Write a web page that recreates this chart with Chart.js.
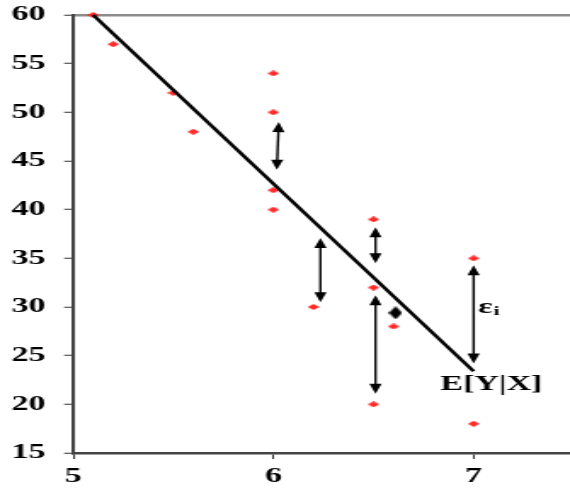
<!DOCTYPE html>
<html><head><meta charset="utf-8">
<script src="https://cdn.jsdelivr.net/npm/chart.js@4/dist/chart.umd.min.js"></script>
<style>
html,body{margin:0;padding:0;background:#fff;overflow:hidden;width:570px;height:488px;}
#wrap{width:343px;height:488px;transform:scaleX(1.7015);transform-origin:0 0;}
</style></head><body>
<div id="wrap"><canvas id="c" width="343" height="488"></canvas></div>
<script>
// observed points
const obsX = [5.1, 5.2, 5.5, 5.6, 6, 6, 6, 6, 6.2, 6.5, 6.5, 6.5, 6.6, 7, 7];
const obsY = [60, 57, 52, 48, 54, 50, 42, 40, 30, 39, 32, 20, 28, 35, 18];
// regression line E[Y|X]
const lineX = [5.1, 7];
const lineY = [60, 23.4];
// black marker
const markX = [6.61];
const markY = [29.4];
// residual arrows
const arrowXTop = [6.027, 6.235, 6.51, 6.51, 7.0];
const arrowXBot = [6.017, 6.235, 6.51, 6.51, 7.0];
const arrowTop = [49, 37.1, 38.2, 31.2, 34.3];
const arrowBot = [44.1, 30.5, 34.5, 21.1, 24.2];
// ticks
const xTicks = [5, 6, 7];
const yTicks = [15, 20, 25, 30, 35, 40, 45, 50, 55, 60];

function diamond(w, h, color) {
  const c = document.createElement('canvas');
  c.width = w; c.height = h;
  const g = c.getContext('2d');
  g.fillStyle = color;
  g.beginPath();
  g.moveTo(w / 2, 0); g.lineTo(w, h / 2); g.lineTo(w / 2, h); g.lineTo(0, h / 2);
  g.closePath(); g.fill();
  return c;
}
const redDia = diamond(7, 6, '#ff2a2a');
const blackDia = diamond(8, 13, '#000');

const overlay = {
  id: 'overlay',
  afterDatasetsDraw(chart) {
    const ctx = chart.ctx, xs = chart.scales.x, ys = chart.scales.y;
    ctx.save();
    ctx.strokeStyle = '#000'; ctx.fillStyle = '#000'; ctx.lineWidth = 1.4;
    const hl = 10, hw = 3.6;
    for (let i = 0; i < arrowTop.length; i++) {
      const x1 = xs.getPixelForValue(arrowXTop[i]), y1 = ys.getPixelForValue(arrowTop[i]);
      const x2 = xs.getPixelForValue(arrowXBot[i]), y2 = ys.getPixelForValue(arrowBot[i]);
      const dx = x2 - x1, dy = y2 - y1, L = Math.hypot(dx, dy);
      const ux = dx / L, uy = dy / L, px = -uy, py = ux;
      ctx.beginPath();
      ctx.moveTo(x1 + ux * hl * 0.8, y1 + uy * hl * 0.8);
      ctx.lineTo(x2 - ux * hl * 0.8, y2 - uy * hl * 0.8);
      ctx.stroke();
      ctx.beginPath();
      ctx.moveTo(x1, y1);
      ctx.lineTo(x1 + ux * hl + px * hw, y1 + uy * hl + py * hw);
      ctx.lineTo(x1 + ux * hl - px * hw, y1 + uy * hl - py * hw);
      ctx.closePath(); ctx.fill();
      ctx.beginPath();
      ctx.moveTo(x2, y2);
      ctx.lineTo(x2 - ux * hl + px * hw, y2 - uy * hl + py * hw);
      ctx.lineTo(x2 - ux * hl - px * hw, y2 - uy * hl - py * hw);
      ctx.closePath(); ctx.fill();
    }
    ctx.textBaseline = 'middle'; ctx.textAlign = 'left';
    ctx.font = 'bold 20px "Liberation Serif"';
    ctx.fillText('E[Y|X]', xs.getPixelForValue(6.834), ys.getPixelForValue(22));
    const ex = xs.getPixelForValue(7.023), ey = ys.getPixelForValue(29.9);
    ctx.fillText('ε', ex, ey);
    const ew = ctx.measureText('ε').width;
    ctx.font = 'bold 13px "Liberation Serif"';
    ctx.fillText('i', ex + ew + 0.5, ey + 4);
    ctx.restore();
  }
};

const tickFont = { family: 'Liberation Serif', weight: 'bold', size: 20 };

new Chart(document.getElementById('c'), {
  type: 'scatter',
  data: {
    datasets: [
      {
        type: 'line',
        data: lineX.map((x, i) => ({ x, y: lineY[i] })),
        borderColor: '#000', borderWidth: 2.4, pointRadius: 0, fill: false, clip: false
      },
      {
        data: obsX.map((x, i) => ({ x, y: obsY[i] })),
        pointStyle: redDia, pointRadius: 4, clip: false
      },
      {
        data: markX.map((x, i) => ({ x, y: markY[i] })),
        pointStyle: blackDia, pointRadius: 6, clip: false
      }
    ]
  },
  options: {
    responsive: false,
    animation: false,
    layout: { padding: { top: 15, left: 0, right: 0, bottom: 0 } },
    plugins: { legend: { display: false }, tooltip: { enabled: false } },
    scales: {
      x: {
        type: 'linear', min: 5, max: 7.49,
        afterBuildTicks: s => { s.ticks = xTicks.map(v => ({ value: v })); },
        afterFit: s => { s.height = 35; s.paddingLeft = 0; s.paddingRight = 0; },
        ticks: { font: tickFont, color: '#000', padding: 6, includeBounds: false },
        grid: { drawOnChartArea: false, tickLength: 6, tickColor: '#333', tickWidth: 1 },
        border: { color: '#444', width: 2.5 }
      },
      y: {
        type: 'linear', min: 15, max: 60,
        afterBuildTicks: s => { s.ticks = yTicks.map(v => ({ value: v })); },
        afterFit: s => { s.width = 43; s.paddingTop = 0; s.paddingBottom = 0; },
        ticks: { font: tickFont, color: '#000', padding: 11 },
        grid: {
          color: c => (c.tick && c.tick.value === 60) ? '#8c8c8c' : 'rgba(0,0,0,0)',
          lineWidth: 2.5, tickLength: 5.3, tickColor: '#333', tickWidth: 1
        },
        border: { color: '#444', width: 2 }
      }
    }
  },
  plugins: [overlay]
});
</script>
</body></html>
